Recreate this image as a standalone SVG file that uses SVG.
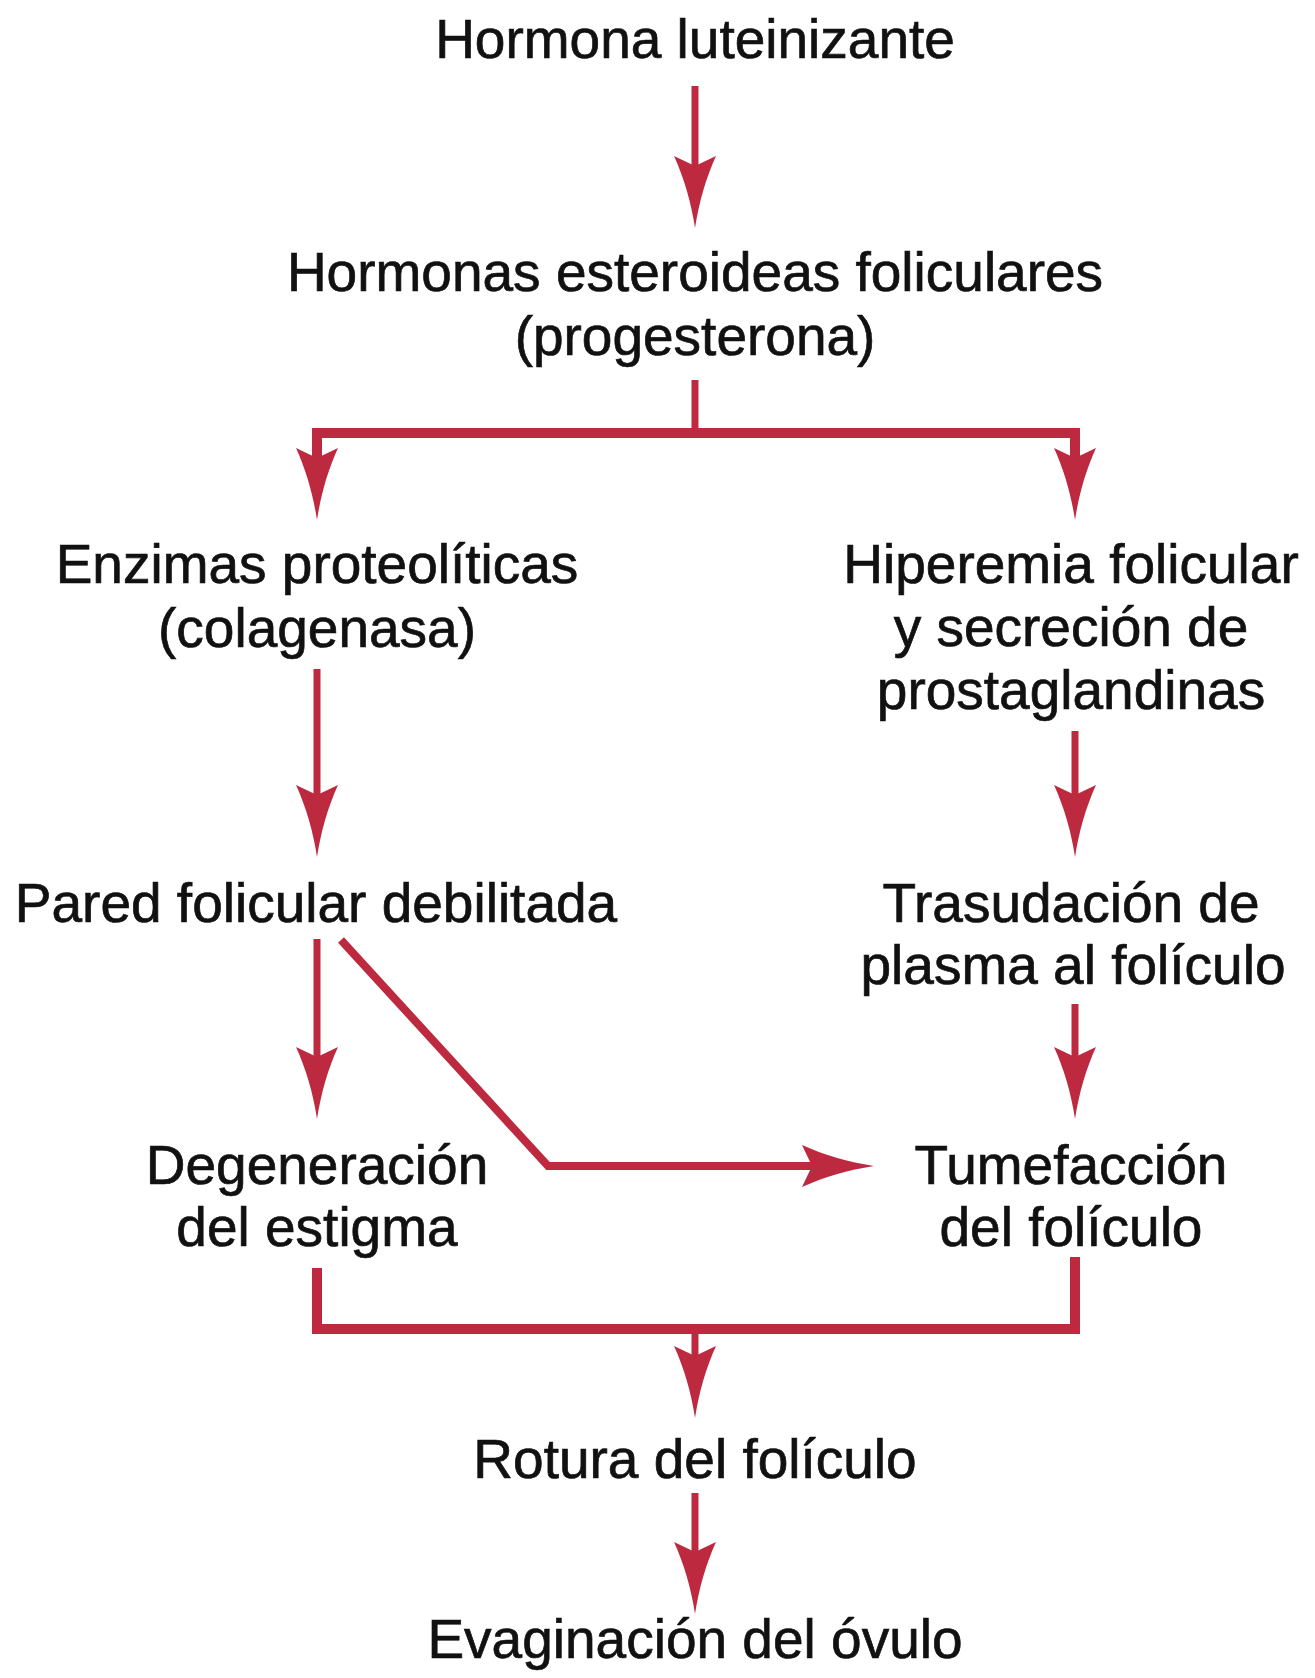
<svg xmlns="http://www.w3.org/2000/svg" width="1315" height="1678" viewBox="0 0 1315 1678">
<style>
.t{font-family:"Liberation Sans",Arial,sans-serif;font-size:55px;fill:#111;stroke:#111;stroke-width:0.7;text-anchor:middle}
.ln{fill:none;stroke:#bd2a40;stroke-width:7;stroke-linejoin:miter;stroke-linecap:butt}
.bar{fill:none;stroke:#bd2a40;stroke-width:10;stroke-linejoin:miter;stroke-linecap:square}
.hd{fill:#bd2a40}
</style>
<defs>
<path id="ah" d="M0 0 C-4 -26 -11 -50 -21 -72 L0 -62 L21 -72 C11 -50 4 -26 0 0 Z"/>
</defs>
<rect width="1315" height="1678" fill="#fff"/>
<g id="n1"><text class="t" x="695" y="58">Hormona luteinizante</text></g>
<g id="n2"><text class="t" x="695" y="291">Hormonas esteroideas foliculares</text><text class="t" x="695" y="355">(progesterona)</text></g>
<g id="n3"><text class="t" x="317" y="583">Enzimas proteolíticas</text><text class="t" x="317" y="647">(colagenasa)</text></g>
<g id="n4"><text class="t" x="1071" y="583">Hiperemia folicular</text><text class="t" x="1071" y="646">y secreción de</text><text class="t" x="1071" y="709">prostaglandinas</text></g>
<g id="n5"><text class="t" x="316" y="922">Pared folicular debilitada</text></g>
<g id="n6"><text class="t" x="1071" y="922">Trasudación de</text><text class="t" x="1073" y="984">plasma al folículo</text></g>
<g id="n7"><text class="t" x="317" y="1184">Degeneración</text><text class="t" x="317" y="1246">del estigma</text></g>
<g id="n8"><text class="t" x="1071" y="1184">Tumefacción</text><text class="t" x="1071" y="1246">del folículo</text></g>
<g id="n9"><text class="t" x="695" y="1478">Rotura del folículo</text></g>
<g id="n10"><text class="t" x="695" y="1658">Evaginación del óvulo</text></g>
<g id="connectors">
<path class="ln" d="M695 86 V180"/>
<use href="#ah" class="hd" transform="translate(695,228)"/>
<path class="ln" d="M695 380 V433"/>
<path class="bar" d="M317 475 V433 H1075 V475"/>
<use href="#ah" class="hd" transform="translate(317,520)"/>
<use href="#ah" class="hd" transform="translate(1075,520)"/>
<path class="ln" d="M317 669 V810"/>
<use href="#ah" class="hd" transform="translate(317,857)"/>
<path class="ln" d="M1075 731 V810"/>
<use href="#ah" class="hd" transform="translate(1075,857)"/>
<path class="ln" d="M317 939 V1072"/>
<use href="#ah" class="hd" transform="translate(317,1119)"/>
<path class="ln" d="M1075 1004 V1072"/>
<use href="#ah" class="hd" transform="translate(1075,1119)"/>
<path class="bar" style="stroke-width:8;stroke-linecap:butt" d="M341 940 L548 1166 H830"/>
<use href="#ah" class="hd" transform="translate(874,1166) rotate(-90)"/>
<path class="bar" d="M317 1273 V1329 H1075 V1262"/>
<path class="ln" d="M695 1329 V1372"/>
<use href="#ah" class="hd" transform="translate(695,1418)"/>
<path class="ln" d="M695 1493 V1568"/>
<use href="#ah" class="hd" transform="translate(695,1614)"/>
</g>
</svg>
